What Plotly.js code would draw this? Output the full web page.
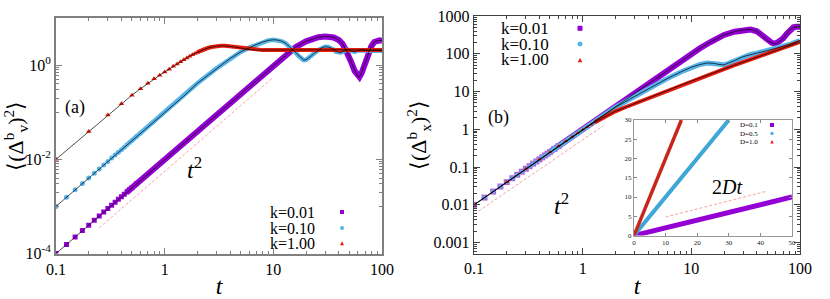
<!DOCTYPE html>
<html>
<head>
<meta charset="utf-8">
<script src="https://cdn.plot.ly/plotly-3.0.1.min.js"></script>
<style>
html,body{margin:0;padding:0;background:#fff;}
#chart{width:830px;height:299px;}
#chart svg text{font-family:'Liberation Serif' !important;}
</style>
</head>
<body>
<div id="chart"></div>
<script>
// ---------------- DATA ----------------
// Panel (a): <(Delta_v^b)^2> vs t
const tA1 = [0.1,0.125,0.15,0.175,0.2,0.225,0.25,0.275,0.3,0.325,0.35,0.375,0.4,0.425,0.45,0.475,0.5,0.55,0.6,0.7,0.8,0.9,1,1.5,2,3,4,5,7,10,13,16,20,23,26,30,33,36,40,43,46,50,53,56,59,62,65,68,72,76,80,85,90,95,100];
const vA1 = [1.0e-4,1.56e-4,2.25e-4,3.06e-4,4.0e-4,5.06e-4,6.25e-4,7.56e-4,9.0e-4,1.06e-3,1.23e-3,1.41e-3,1.6e-3,1.81e-3,2.03e-3,2.26e-3,2.5e-3,3.03e-3,3.6e-3,4.9e-3,6.4e-3,8.1e-3,0.01,0.0225,0.04,0.09,0.16,0.25,0.48,0.95,1.6,2.4,3.2,3.6,3.9,4.05,4.05,3.85,3.4,2.9,2.2,1.55,1.05,0.75,0.6,0.56,0.68,0.95,1.3,1.95,2.55,3.1,3.3,3.35,3.3];
const tA2 = [0.1,0.125,0.15,0.175,0.2,0.225,0.25,0.275,0.3,0.325,0.35,0.375,0.4,0.425,0.45,0.475,0.5,0.55,0.6,0.7,0.8,0.9,1,1.5,2,3,4,5,6,7,8,9,10,11,12,13,14,15,16,17,18,19,20,21,22,24,26,28,30,32,34,36,38,40,42,44,47,50,53,56,60,65,70,80,90,100];
const vA2 = [1e-3,1.56e-3,2.25e-3,3.06e-3,4e-3,5.06e-3,6.25e-3,7.56e-3,9e-3,0.0106,0.0123,0.0141,0.016,0.018,0.0203,0.0226,0.025,0.0303,0.036,0.049,0.064,0.081,0.1,0.22,0.41,0.85,1.38,1.9,2.35,2.75,3.1,3.35,3.45,3.4,3.2,2.9,2.5,2.15,1.85,1.57,1.38,1.28,1.3,1.4,1.52,1.8,2.1,2.35,2.45,2.42,2.3,2.1,1.92,1.83,1.85,1.95,2.12,2.1,1.95,1.92,2.05,2.1,2.05,2.02,2.05,2.02];
const tA3 = [0.1,0.2,0.3,0.4,0.5,0.6,0.7,0.8,0.9,1.0,1.1,1.2,1.3,1.4,1.5,1.6,1.7,1.8,1.9,2.0,2.1,2.2,2.3,2.4,2.5,2.6,2.7,2.8,2.9,3.0,3.3,3.6,4,4.5,5,5.5,6,7,8,10,13,16,20,30,40,50,60,70,80,90,100];
const vA3 = [0.01,0.039,0.087,0.152,0.23,0.315,0.41,0.51,0.61,0.71,0.82,0.94,1.06,1.18,1.3,1.42,1.54,1.66,1.77,1.88,1.98,2.08,2.16,2.24,2.31,2.37,2.42,2.46,2.5,2.53,2.56,2.57,2.5,2.4,2.3,2.2,2.14,2.09,2.08,2.1,2.1,2.09,2.1,2.1,2.1,2.1,2.1,2.1,2.1,2.1,2.1];
const tRefA = [0.25, 10];
const vRefA = [0.00035, 0.55];

// Panel (b): <(Delta_x^b)^2> vs t
const tB1 = [0.1,0.125,0.15,0.175,0.2,0.225,0.25,0.275,0.3,0.325,0.35,0.375,0.4,0.425,0.45,0.475,0.5,0.55,0.6,0.7,0.8,0.9,1,1.5,2,3,4,6,8,10,12,15,20,25,30,35,40,45,50,55,60,65,70,75,80,87,93,100];
const vB1 = [0.01,0.0156,0.0225,0.0306,0.04,0.0506,0.0625,0.0756,0.09,0.106,0.123,0.141,0.16,0.181,0.203,0.226,0.25,0.303,0.36,0.49,0.64,0.81,1.0,2.25,4.0,9.0,16,36,62,95,140,205,315,385,430,440,395,295,225,195,185,210,255,330,420,500,520,520];
const tB2 = [0.1,0.125,0.15,0.175,0.2,0.225,0.25,0.275,0.3,0.325,0.35,0.375,0.4,0.425,0.45,0.475,0.5,0.55,0.6,0.7,0.8,0.9,1,1.5,2,3,4,5,6,8,10,12,14,16,18,20,22,25,30,35,40,50,60,70,80,90,100];
const vB2 = [0.01,0.0156,0.0225,0.0306,0.04,0.0506,0.0625,0.0756,0.09,0.106,0.123,0.141,0.16,0.181,0.203,0.226,0.25,0.303,0.36,0.49,0.64,0.81,0.99,2.2,3.8,7.4,11.8,16.8,22,33,44,52,57,56,52,51,56,66,84,96,104,121,139,156,176,200,225];
const tB3 = [0.1,0.2,0.3,0.4,0.5,0.6,0.7,0.8,0.9,1.0,1.1,1.2,1.3,1.4,1.5,1.7,2,2.5,3,4,5,6,8,10,12,15,20,25,30,40,50,60,70,80,90,100];
const vB3 = [0.01,0.04,0.09,0.16,0.25,0.36,0.49,0.64,0.8,0.97,1.15,1.35,1.55,1.75,1.95,2.35,3.0,3.9,4.8,6.6,8.6,10.6,14.7,18.8,23,29,39.5,50,60,81,101,122,143,163,184,205];
const tRefB = [0.11, 1.55];
const vRefB = [0.0068, 1.25];

// Inset of panel (b): linear axes
const tI1 = [0,10,20,30,40,50];
const vI1 = [0,2,4,6,8,10];
const tI2 = [0,5,10,15,20,25,30];
const vI2 = [0,5,10,15,20,25,30];
const tI3 = [0,5,10,15];
const vI3 = [0,10,20,30];
const tRefI = [10, 42];
const vRefI = [4.8, 11.5];

// Labels
const kLabels = ['k=0.01','k=0.10','k=1.00'];
const dLabels = ['D=0.1','D=0.5','D=1.0'];
const xTickVals = [0.1,1,10,100];
const xTickText = ['0.1','1','10','100'];
const yATickVals = [1e-4,1e-2,1];
const yATickText = ['10<sup>-4</sup>','10<sup>-2</sup>','10<sup>0</sup>'];
const yBTickVals = [0.001,0.01,0.1,1,10,100,1000];
const yBTickText = ['0.001','0.01','0.1','1','10','100','1000'];
const xITickVals = [0,10,20,30,40,50];
const yITickVals = [0,5,10,15,20,25,30];

// ---------------- STYLE ----------------
const SERIF = 'Liberation Serif';
const C1 = '#9400d3', C2 = '#56b4e9', C3 = '#e51e10', CREF = '#f7a1a1';
const W = 830, H = 299;
const px = x => x / W, py = y => 1 - y / H;

// minor ticks: m * 10^d for the listed decades and multipliers
function minorLog(decades, mults) {
  const out = [];
  decades.forEach(d => mults.forEach(m => out.push(m * Math.pow(10, d))));
  return out;
}
function pick(t, v, f) {
  const x = [], y = [];
  t.forEach((tt, i) => { if (f(tt)) { x.push(tt); y.push(v[i]); } });
  return {x, y};
}

const traces = [];
function series(xa, ya, t, v, color, mcolor, symbol, msize, bandW, markMax, bandMin) {
  const b = pick(t, v, tt => tt >= bandMin);
  traces.push({x: b.x, y: b.y, xaxis: xa, yaxis: ya, mode: 'lines', line: {color: color, width: bandW}, hoverinfo: 'skip'});
  const m = pick(t, v, tt => tt <= markMax);
  traces.push({x: m.x, y: m.y, xaxis: xa, yaxis: ya, mode: 'markers', marker: {color: mcolor, symbol: symbol, size: msize, line: {width: 0}}, hoverinfo: 'skip'});
}
function blackLine(xa, ya, t, v) {
  traces.push({x: t, y: v, xaxis: xa, yaxis: ya, mode: 'lines', line: {color: '#000', width: 0.7}, hoverinfo: 'skip'});
}
function refLine(xa, ya, t, v) {
  traces.push({x: t, y: v, xaxis: xa, yaxis: ya, mode: 'lines', line: {color: CREF, width: 1, dash: '3px,2px'}, hoverinfo: 'skip'});
}

// panel (a)
refLine('x', 'y', tRefA, vRefA);
series('x', 'y', tA1, vA1, C1, C1, 'square', 5, 6, 0.55, 0.45);
series('x', 'y', tA2, vA2, C2, C2, 'circle', 5, 4.5, 0.6, 0.5);
series('x', 'y', tA3, vA3, C3, C3, 'triangle-up', 5, 4, 2.6, 2.0);
blackLine('x', 'y', tA1, vA1);
blackLine('x', 'y', tA2, vA2);
blackLine('x', 'y', tA3, vA3);
// panel (b)
refLine('x2', 'y2', tRefB, vRefB);
series('x2', 'y2', tB1, vB1, C1, '#b066e0', 'square', 6, 6, 0.6, 0.5);
series('x2', 'y2', tB2, vB2, C2, C2, 'circle', 4, 5, 0.6, 0.5);
series('x2', 'y2', tB3, vB3, C3, C3, 'triangle-up', 4, 4, 1.5, 1.3);
blackLine('x2', 'y2', tB1, vB1);
blackLine('x2', 'y2', tB2, vB2);
blackLine('x2', 'y2', tB3, vB3);
// inset
refLine('x3', 'y3', tRefI, vRefI);
traces.push({x: tI1, y: vI1, xaxis: 'x3', yaxis: 'y3', mode: 'lines', line: {color: C1, width: 5}, hoverinfo: 'skip'});
traces.push({x: tI2, y: vI2, xaxis: 'x3', yaxis: 'y3', mode: 'lines', line: {color: '#3fa6d8', width: 4}, hoverinfo: 'skip'});
traces.push({x: tI3, y: vI3, xaxis: 'x3', yaxis: 'y3', mode: 'lines', line: {color: '#c8251b', width: 3.5}, hoverinfo: 'skip'});

function logAxis(domain, range, anchor, tv, tt, minorVals, lc, lw, fontSize) {
  return {
    type: 'log', domain: domain, range: range, anchor: anchor,
    tickmode: 'array', tickvals: tv, ticktext: tt,
    ticks: 'inside', ticklen: 6, tickwidth: 1, tickcolor: lc,
    showline: true, linecolor: lc, linewidth: lw, mirror: 'allticks',
    showgrid: false, zeroline: false,
    tickfont: {family: SERIF, size: fontSize, color: '#000'},
    minor: {tickmode: 'array', tickvals: minorVals, ticks: 'inside', ticklen: 3, tickwidth: 1, tickcolor: lc, showgrid: false},
    automargin: false
  };
}

const M29 = [2,3,4,5,6,7,8,9], M19 = [1,2,3,4,5,6,7,8,9];
const xa = logAxis([px(56), px(382)], [-1, 2], 'y', xTickVals, xTickText, minorLog([-1,0,1], M29), '#808080', 2, 16);
xa.title = {text: '<i>t</i>', font: {family: SERIF, size: 24}, standoff: 4};
const ya = logAxis([py(253.5), py(18)], [-4, 1], 'x', yATickVals, yATickText, minorLog([-3,-1], M19).concat([10]), '#808080', 2, 16);
ya.title = {text: '⟨(Δ<sup>b</sup><sub>v</sub>)<sup>2</sup>⟩', font: {family: SERIF, size: 22}, standoff: 0};
const xb = logAxis([px(474), px(800)], [-1, 2], 'y2', xTickVals, xTickText, minorLog([-1,0,1], M29), '#404040', 1.2, 16);
xb.title = {text: '<i>t</i>', font: {family: SERIF, size: 24}, standoff: 4};
const yb = logAxis([py(254), py(16)], [Math.log10(0.0005), 3], 'x2', yBTickVals, yBTickText, minorLog([-4,-3,-2,-1,0,1,2], M29), '#404040', 1.2, 16);
yb.title = {text: '⟨(Δ<sup>b</sup><sub>x</sub>)<sup>2</sup>⟩', font: {family: SERIF, size: 22}, standoff: 0};

const xi = {domain: [px(634), px(792)], range: [0, 50], anchor: 'y3', tickmode: 'array', tickvals: xITickVals,
  ticks: 'inside', ticklen: 3, tickcolor: '#888', showline: true, linecolor: '#999', linewidth: 1, mirror: 'ticks',
  showgrid: false, zeroline: false, tickfont: {family: SERIF, size: 7, color: '#222'}, automargin: false};
const yi = {domain: [py(235.5), py(120)], range: [0, 30], anchor: 'x3', tickmode: 'array', tickvals: yITickVals,
  ticks: 'inside', ticklen: 3, tickcolor: '#888', showline: true, linecolor: '#999', linewidth: 1, mirror: 'ticks',
  showgrid: false, zeroline: false, tickfont: {family: SERIF, size: 7, color: '#222'}, automargin: false};

function ann(text, x, y, size, anchor, color) {
  return {text: text, xref: 'paper', yref: 'paper', x: px(x), y: py(y), xanchor: anchor || 'center', yanchor: 'middle',
    showarrow: false, font: {family: SERIF, size: size, color: color || '#000'}};
}
const annotations = [
  ann('(a)', 75, 107, 18),
  ann('<i>t</i><sup>2</sup>', 194, 168, 24),
  ann('(b)', 498, 118, 18),
  ann('<i>t</i><sup>2</sup>', 561, 204, 24),
  ann('2<i>Dt</i>', 727, 187, 20),
];
const legA = [212, 228, 243.3], legB = [28.3, 44, 60], legI = [125, 133.5, 141.7];
kLabels.forEach((s, i) => annotations.push(ann(s, 268, legA[i], 16, 'left')));
kLabels.forEach((s, i) => annotations.push(ann(s, 499, legB[i], 17, 'left')));
dLabels.forEach((s, i) => annotations.push(ann(s, 738, legI[i], 7, 'left')));

// legend keys (layout shapes in paper coordinates)
function sq(cx, cy, s, c) { return {type: 'rect', xref: 'paper', yref: 'paper', x0: px(cx - s/2), x1: px(cx + s/2), y0: py(cy + s/2), y1: py(cy - s/2), fillcolor: c, line: {width: 0}}; }
function ci(cx, cy, s, c) { return {type: 'circle', xref: 'paper', yref: 'paper', x0: px(cx - s/2), x1: px(cx + s/2), y0: py(cy + s/2), y1: py(cy - s/2), fillcolor: c, line: {width: 0}}; }
function tri(cx, cy, s, c) {
  const p = `M ${px(cx - s/2)},${py(cy + s/2)} L ${px(cx + s/2)},${py(cy + s/2)} L ${px(cx)},${py(cy - s/2)} Z`;
  return {type: 'path', xref: 'paper', yref: 'paper', path: p, fillcolor: c, line: {width: 0}};
}
const shapes = [
  sq(342, legA[0], 4, C1), ci(342, legA[1], 4, C2), tri(342, legA[2], 4, C3),
  sq(580, legB[0], 5, C1), ci(580, legB[1], 5, C2), tri(580, legB[2], 4.5, C3),
  sq(772, legI[0], 4, C1), ci(772, legI[1], 3.5, C2), tri(772, legI[2], 3.5, C3),
];

const layout = {
  width: W, height: H, margin: {l: 0, r: 0, t: 0, b: 0},
  paper_bgcolor: '#fff', plot_bgcolor: '#fff', showlegend: false,
  font: {family: SERIF, size: 15, color: '#000'},
  xaxis: xa, yaxis: ya, xaxis2: xb, yaxis2: yb, xaxis3: xi, yaxis3: yi,
  annotations: annotations, shapes: shapes
};
Plotly.newPlot('chart', traces, layout, {staticPlot: true, displayModeBar: false});
</script>
</body>
</html>
